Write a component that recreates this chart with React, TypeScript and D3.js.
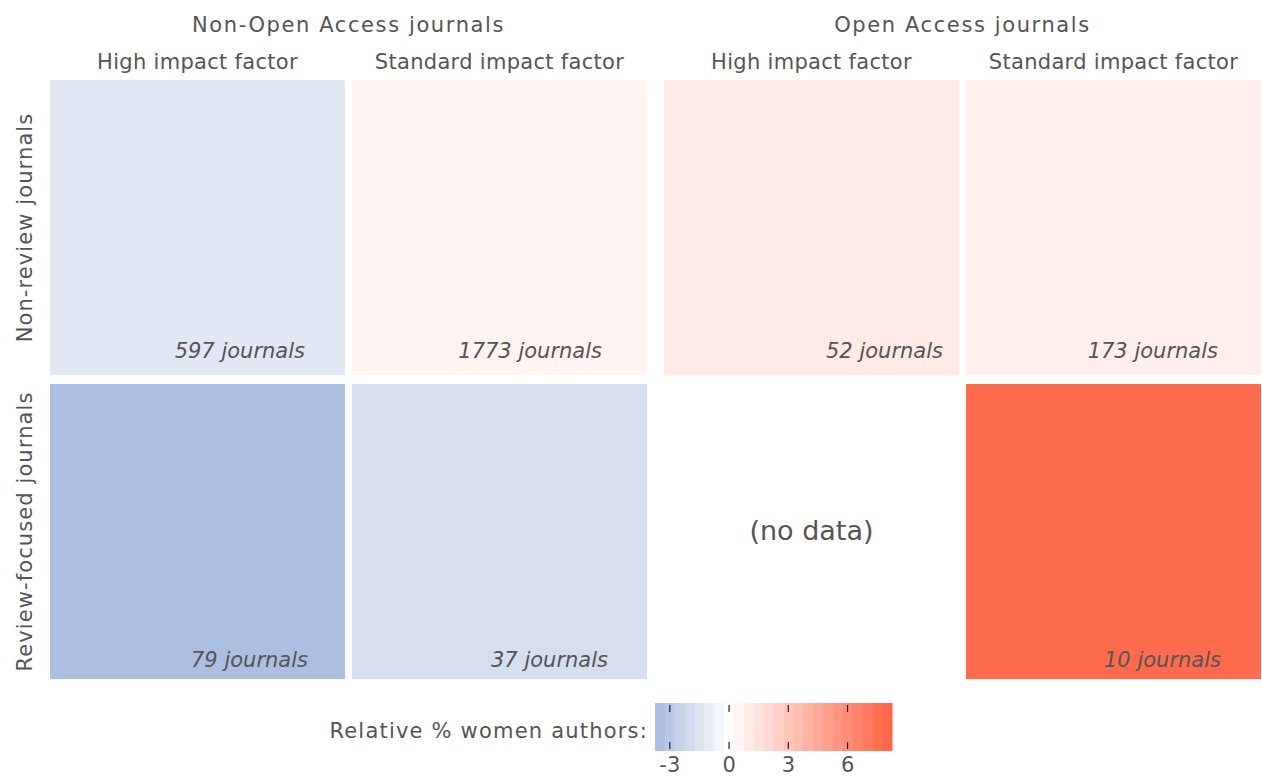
import React from "react";
import * as d3 from "d3";

// column groups / facets
const accessGroups = ["Non-Open Access journals", "Open Access journals"];
const impactLevels = ["High impact factor", "Standard impact factor"];
const journalTypes = ["Non-review journals", "Review-focused journals"];

// relative % women authors, one row per journal type, columns: non-OA high, non-OA std, OA high, OA std
const relativeWomen: (number | null)[][] = [
  [-1.3, 0.6, 1.1, 0.85],
  [-3.6, -1.8, null, 7.8],
];
const journalCounts: (number | null)[][] = [
  [597, 1773, 52, 173],
  [79, 37, null, 10],
];

const legendTicks = [-3, 0, 3, 6];
const legendDomain: [number, number] = [-3.75, 8.25];
const legendStep = 0.5;

// where the "n journals" label sits, from the cell's bottom-right corner
const countLabelOffset: [number, number][][] = [
  [[-40, -17], [-45, -17], [-16, -17], [-43, -17]],
  [[-37, -12], [-39, -12], [0, 0], [-40, -12]],
];

const W = 1262;
const H = 776;
const font = "'DejaVu Sans', Verdana, sans-serif";
const textColor = "#555555";

function fillFor(v: number) {
  if (v < 0) return d3.interpolateRgb("#ffffff", "#a8bcdf")(Math.min(1, -v / 3.75));
  return d3.interpolateRgb("#ffffff", "#ff6242")(Math.min(1, v / 8.25));
}

export default function App() {
  const groupX = d3
    .scaleBand<string>()
    .domain(accessGroups)
    .range([50, 1261])
    .paddingInner(17 / 614);
  const impactX = d3
    .scaleBand<string>()
    .domain(impactLevels)
    .range([0, groupX.bandwidth()])
    .paddingInner(7 / 302);
  const rowY = d3
    .scaleBand<string>()
    .domain(journalTypes)
    .range([80, 679])
    .paddingInner(9 / 304);

  const colX = (c: number) =>
    (groupX(accessGroups[Math.floor(c / 2)]) as number) + (impactX(impactLevels[c % 2]) as number);
  const cw = impactX.bandwidth();
  const rh = rowY.bandwidth();

  const legendX = d3.scaleLinear().domain(legendDomain).range([655, 892]);
  const bands = d3.range(legendDomain[0] + legendStep / 2, legendDomain[1], legendStep);
  const legTop = 703;
  const legBottom = 751;

  return (
    <svg width={W} height={H} style={{ position: "absolute", left: 0, top: 0 }} fontFamily={font}>
      <rect width={W} height={H} fill="#fff" />
      {accessGroups.map((g) => (
        <text
          key={g}
          x={(groupX(g) as number) + groupX.bandwidth() / 2}
          y={32}
          textAnchor="middle"
          fontSize={21}
          letterSpacing={1.6}
          fill={textColor}
        >
          {g}
        </text>
      ))}
      {accessGroups.map((g) =>
        impactLevels.map((lvl) => (
          <text
            key={g + lvl}
            x={(groupX(g) as number) + (impactX(lvl) as number) + cw / 2}
            y={69}
            textAnchor="middle"
            fontSize={21}
            letterSpacing={0.3}
            fill={textColor}
          >
            {lvl}
          </text>
        ))
      )}
      {journalTypes.map((t) => {
        const cy = (rowY(t) as number) + rh / 2;
        return (
          <text
            key={t}
            transform={`translate(32,${cy}) rotate(-90)`}
            textAnchor="middle"
            fontSize={21}
            letterSpacing={1.1}
            fill={textColor}
          >
            {t}
          </text>
        );
      })}
      {journalTypes.map((t, r) =>
        relativeWomen[r].map((v, c) => {
          const x = colX(c);
          const y = rowY(t) as number;
          if (v === null) {
            return (
              <text
                key={`${r}-${c}`}
                x={x + cw / 2}
                y={y + rh / 2 + 8}
                textAnchor="middle"
                fontSize={27}
                fill={textColor}
              >
                (no data)
              </text>
            );
          }
          const [dx, dy] = countLabelOffset[r][c];
          return (
            <g key={`${r}-${c}`}>
              <rect x={x} y={y} width={cw} height={rh} fill={fillFor(v)} />
              <text
                x={x + cw + dx}
                y={y + rh + dy}
                textAnchor="end"
                fontSize={21}
                fontStyle="italic"
                fill={textColor}
              >
                {journalCounts[r][c]} journals
              </text>
            </g>
          );
        })
      )}
      {/* legend */}
      <text x={648} y={738} textAnchor="end" fontSize={21} letterSpacing={1.2} fill={textColor}>
        Relative % women authors:
      </text>
      {bands.map((b) => (
        <rect
          key={b}
          x={legendX(b - legendStep / 2)}
          y={legTop}
          width={legendX(b + legendStep / 2) - legendX(b - legendStep / 2) + 0.5}
          height={legBottom - legTop}
          fill={fillFor(b)}
        />
      ))}
      {legendTicks.map((t) => (
        <g key={t}>
          <line x1={legendX(t)} x2={legendX(t)} y1={legTop + 2} y2={legTop + 9} stroke="#222" strokeWidth={1.2} />
          <line x1={legendX(t)} x2={legendX(t)} y1={legBottom - 9} y2={legBottom - 2} stroke="#222" strokeWidth={1.2} />
          <text x={legendX(t)} y={772} textAnchor="middle" fontSize={21} fill={textColor}>
            {t}
          </text>
        </g>
      ))}
    </svg>
  );
}
